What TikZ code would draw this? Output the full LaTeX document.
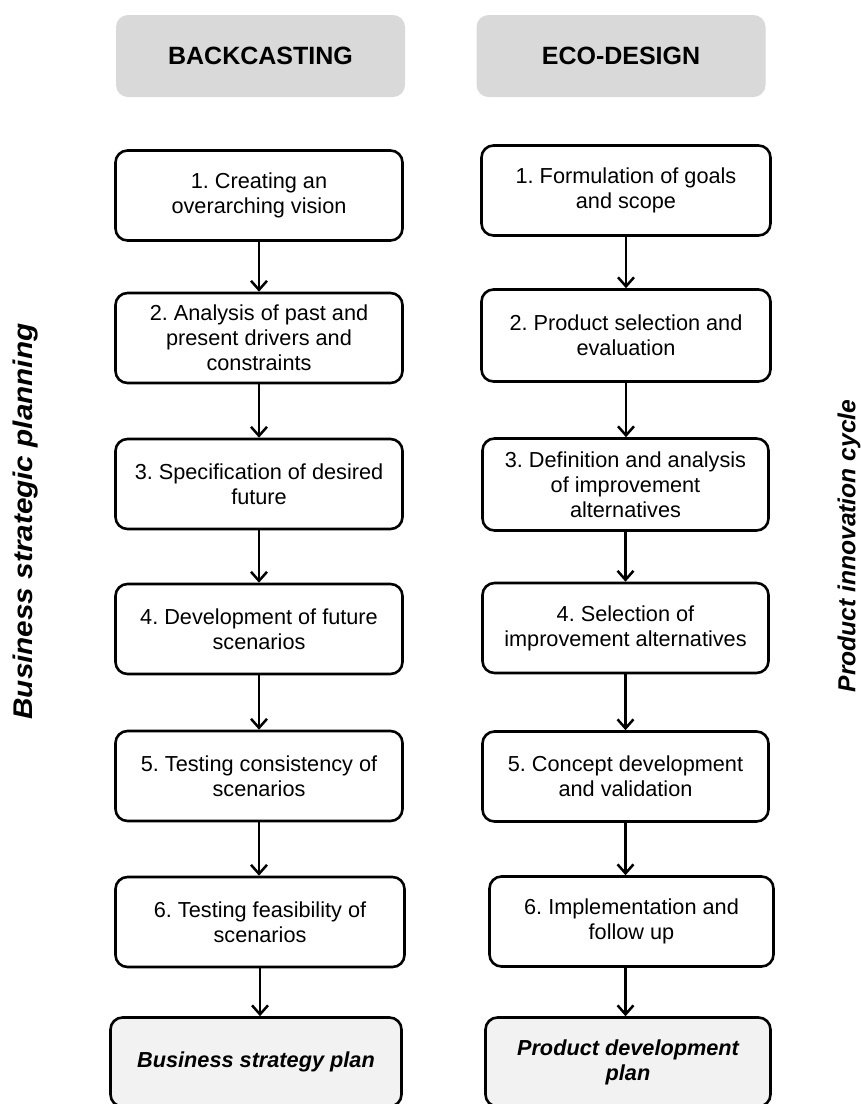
\documentclass[tikz,border=0pt]{standalone}
\usepackage{fontspec}
\setmainfont{Liberation Sans}
\usetikzlibrary{arrows.meta}
\definecolor{headgray}{HTML}{D9D9D9}
\definecolor{endgray}{HTML}{F2F2F2}
\frenchspacing
\begin{document}
\begin{tikzpicture}[x=1pt,y=-1pt,
  headbox/.style={fill=headgray, rounded corners=12pt, inner sep=0pt,
    minimum width=289pt, minimum height=82pt,
    font=\bfseries\fontsize{25}{30}\selectfont},
  stepbox/.style={draw, line width=2.6pt, rounded corners=12pt, fill=white,
    align=center, inner sep=0pt, minimum width=287pt, minimum height=90pt,
    font=\fontsize{21.7}{25}\selectfont},
  endbox/.style={stepbox, fill=endgray, minimum height=89pt,
    font=\bfseries\itshape\fontsize{21.7}{25}\selectfont},
  sidelabel/.style={rotate=90, inner sep=0pt,
    font=\bfseries\itshape\fontsize{24.6}{28}\selectfont},
  flow/.style={-{Straight Barb[length=9pt,width=16pt]}, line width=2.5pt}]
\useasboundingbox (0,0) rectangle (861,1104);

% column headings
\node[headbox] (hb) at (260.5,56) {BACKCASTING};
\node[headbox] (he) at (621,56) {ECO-DESIGN};

% backcasting steps
\node[stepbox] (b1) at (259,195.5) {1. Creating an\\overarching vision};
\node[stepbox] (b2) at (259,338) {2. Analysis of past and\\present drivers and\\constraints};
\node[stepbox] (b3) at (259,484) {3. Specification of desired\\future};
\node[stepbox] (b4) at (259,629) {4. Development of future\\scenarios};
\node[stepbox] (b5) at (259,776) {5. Testing consistency of\\scenarios};
\node[stepbox, minimum width=289pt] (b6) at (260,922) {6. Testing feasibility of\\scenarios};
\node[endbox, minimum width=291pt] (bf) at (256,1062) {Business strategy plan};

% eco-design steps
\node[stepbox, minimum width=289pt] (e1) at (626,190.5) {1. Formulation of goals\\and scope};
\node[stepbox, minimum width=289pt, minimum height=92pt] (e2) at (626,335.5) {2. Product selection and\\evaluation};
\node[stepbox, minimum width=286pt, minimum height=92pt] (e3) at (625.5,484.5) {3. Definition and analysis\\of improvement\\alternatives};
\node[stepbox, minimum width=286pt] (e4) at (625.5,628) {4. Selection of\\improvement alternatives};
\node[stepbox, minimum width=286pt] (e5) at (625.5,776.5) {5. Concept development\\and validation};
\node[stepbox, minimum width=284pt] (e6) at (631.5,921.5) {6. Implementation and\\follow up};
\node[endbox, minimum width=285pt] (ef) at (628,1062) {Product development\\plan};

% side labels
\node[sidelabel, font=\bfseries\itshape\fontsize{27}{30}\selectfont, xscale=1.1] (sl) at (26,521.5) {Business strategic planning};
\node[sidelabel] (sr) at (849,546) {Product innovation cycle};

% connectors
\foreach \a/\b in {b1/b2,b2/b3,b3/b4,b4/b5,b5/b6,b6/bf,e1/e2,e2/e3,e3/e4,e4/e5,e5/e6}
  \draw[flow] (\a.south) -- (\a.south |- \b.north);
\draw[flow] ([xshift=-6pt]e6.south) -- ([xshift=-6pt]e6.south |- ef.north);
\end{tikzpicture}
\end{document}
